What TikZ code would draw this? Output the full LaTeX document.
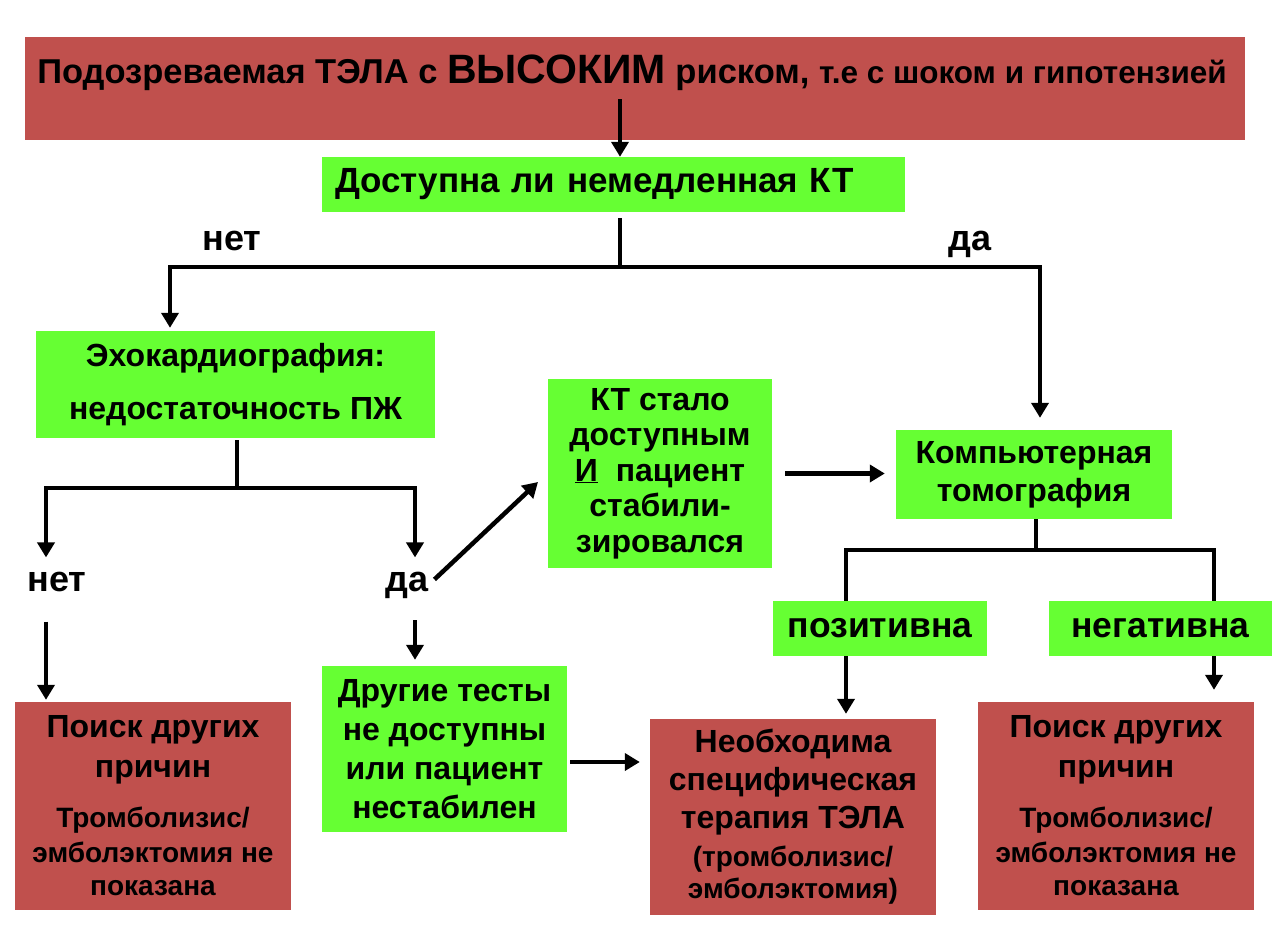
\documentclass[tikz,border=0pt]{standalone}
\usepackage{fontspec}
\setmainfont{Liberation Sans}
\usetikzlibrary{arrows.meta}
\definecolor{riskred}{HTML}{C0504D}
\definecolor{testgreen}{HTML}{66FF33}
\newcommand{\smalltxt}{\fontsize{28}{34}\selectfont}
\begin{document}
\begin{tikzpicture}[x=1pt,y=-1pt]
\tikzset{redbox/.style={fill=riskred, inner sep=0pt, align=center, font=\bfseries\fontsize{32}{40}\selectfont},
  greenbox/.style={fill=testgreen, inner sep=0pt, align=center, font=\bfseries\fontsize{32}{38}\selectfont},
  answer/.style={inner sep=0pt, anchor=base, font=\bfseries\fontsize{36}{40}\selectfont},
  link/.style={line width=4.5pt},
  arr/.style={line width=4.5pt, -{Triangle[width=17pt,length=15pt]}}}
\useasboundingbox (0,0) rectangle (1277,937);
    \node[redbox, minimum width=1220pt, minimum height=103pt] at (635,88.5) (risk) {};
    \node[inner sep=0pt, font=\bfseries\fontsize{34.5}{38}\selectfont] at (632,73) (risktext) {Подозреваемая ТЭЛА с {\fontsize{41}{44}\selectfont ВЫСОКИМ} риском, {\fontsize{31.5}{34}\selectfont т.е с шоком и гипотензией}};
    \node[greenbox, minimum width=583pt, minimum height=55pt, text width=557pt, inner xsep=13pt, align=left, font=\bfseries\fontsize{35}{40}\selectfont] at (613.5,184.5) (ktq) {Доступна ли немедленная КТ};
    \node[answer] at (232,250) (no1) {нет};
    \node[answer] at (970,250) (yes1) {да};
    \node[greenbox, minimum width=399pt, minimum height=107pt, font=\bfseries\fontsize{32}{53}\selectfont] at (235.5,384.5) (echo) {Эхокардиография:\\недостаточность ПЖ};
    \node[answer] at (57,591) (no2) {нет};
    \node[answer] at (407,591) (yes2) {да};
    \node[greenbox, minimum width=224pt, minimum height=189pt, font=\bfseries\fontsize{32}{35.5}\selectfont] at (660,473.5) (ktok) {КТ стало\\доступным\\\underline{И}\ \ пациент\\стабили-\\зировался};
    \node[greenbox, minimum width=276pt, minimum height=89pt] at (1034,474.5) (ct) {Компьютерная\\томография};
    \node[greenbox, minimum width=214pt, minimum height=55pt, font=\bfseries\fontsize{35.5}{40}\selectfont] at (880,628.5) (pos) {позитивна};
    \node[greenbox, minimum width=223pt, minimum height=55pt, font=\bfseries\fontsize{35.5}{40}\selectfont] at (1160.5,628.5) (neg) {негативна};
    \node[redbox, minimum width=276pt, minimum height=208pt] at (153,806) (search1) {Поиск других\\причин\\[10pt]\smalltxt Тромболизис/\\[-5pt]\smalltxt эмболэктомия не\\[-7pt]\smalltxt показана};
    \node[greenbox, minimum width=245pt, minimum height=166pt, font=\bfseries\fontsize{32}{39}\selectfont] at (444.5,749) (other) {Другие тесты\\не доступны\\или пациент\\нестабилен};
    \node[redbox, minimum width=286pt, minimum height=196pt, font=\bfseries\fontsize{32}{38}\selectfont] at (793,817) (need) {Необходима\\специфическая\\терапия ТЭЛА\\\smalltxt (тромболизис/\\[-6pt]\smalltxt эмболэктомия)};
    \node[redbox, minimum width=276pt, minimum height=208pt] at (1116,806) (search2) {Поиск других\\причин\\[10pt]\smalltxt Тромболизис/\\[-5pt]\smalltxt эмболэктомия не\\[-7pt]\smalltxt показана};

    % branch points
    \coordinate (ktqsplit) at (620,267);
    \coordinate (ktqno) at (170,267);
    \coordinate (ktqyes) at (1040,267);
    \coordinate (echosplit) at (237,488);
    \coordinate (echono) at (46,488);
    \coordinate (echoyes) at (415,488);
    \coordinate (ctsplit) at (1036,550);
    \coordinate (ctpos) at (846,550);
    \coordinate (ctneg) at (1214,550);
    \coordinate (ktokin) at (538,482);
    \coordinate (otherout) at (570,762);

    \draw[arr, shorten <=8pt] (risktext.south -| ktqsplit) -- (ktqsplit |- ktq.north);
    \draw[link, shorten <=6pt] (ktq.south -| ktqsplit) -- (ktqsplit);
    \draw[arr, shorten >=3pt] (ktqsplit) -- (ktqno) -- (ktqno |- echo.north);
    \draw[arr, shorten >=12pt] (ktqsplit) -- (ktqyes) -- (ktqyes |- ct.north);
    \draw[link, shorten <=2pt] (echo.south -| echosplit) -- (echosplit);
    \draw[arr, shorten >=14pt] (echosplit) -- (echono) -- (echono |- no2.north);
    \draw[arr, shorten >=14pt] (echosplit) -- (echoyes) -- (echoyes |- yes2.north);
    \draw[arr, shorten <=30pt, shorten >=2pt] (echono |- no2.south) -- (echono |- search1.north);
    \draw[arr, shorten <=22pt, shorten >=6pt] (echoyes |- yes2.south) -- (echoyes |- other.north);
    \draw[arr, shorten <=8pt] (yes2.east) -- (ktokin);
    \draw[arr, shorten <=13pt, shorten >=11pt] (ktok.east) -- (ktok.east -| ct.west);
    \draw[link] (ct.south -| ctsplit) -- (ctsplit);
    \draw[link] (ctpos |- pos.north) -- (ctpos) -- (ctneg) -- (ctneg |- neg.north);
    \draw[arr, shorten >=5pt] (ctpos |- pos.south) -- (ctpos |- need.north);
    \draw[arr, shorten >=12pt] (ctneg |- neg.south) -- (ctneg |- search2.north);
    \draw[arr, shorten >=10pt] (otherout) -- (otherout -| need.west);
\end{tikzpicture}
\end{document}
